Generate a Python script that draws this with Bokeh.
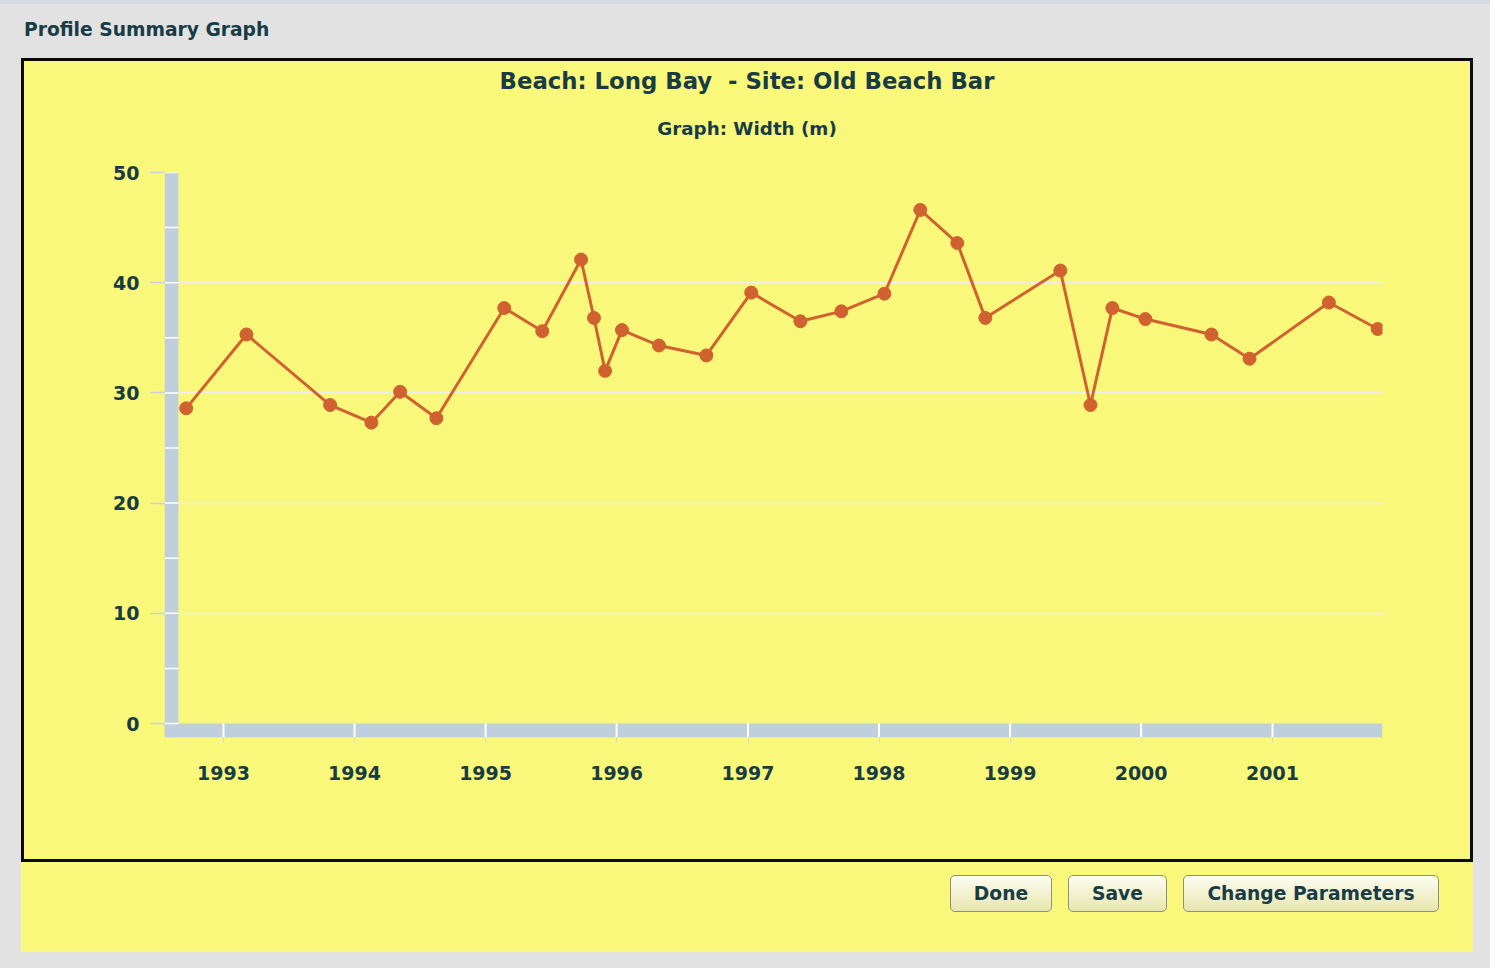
from datetime import datetime
from bokeh.plotting import figure
from bokeh.models import Div, FixedTicker, DatetimeTickFormatter, Range1d
from bokeh.layouts import column, row
from bokeh.embed import file_html
from bokeh.resources import INLINE

# ---------------- data ----------------
survey_dates = [
    "1992-09-19", "1993-03-06", "1993-10-25", "1994-02-17", "1994-05-08",
    "1994-08-17", "1995-02-22", "1995-06-08", "1995-09-24", "1995-10-30",
    "1995-11-30", "1996-01-16", "1996-04-28", "1996-09-07", "1997-01-10",
    "1997-05-27", "1997-09-18", "1998-01-16", "1998-04-26", "1998-08-07",
    "1998-10-24", "1999-05-21", "1999-08-13", "1999-10-13", "2000-01-13",
    "2000-07-15", "2000-10-29", "2001-06-07", "2001-10-21",
]
beach_width_m = [
    28.6, 35.3, 28.9, 27.3, 30.1,
    27.7, 37.7, 35.6, 42.1, 36.8,
    32.0, 35.7, 34.3, 33.4, 39.1,
    36.5, 37.4, 39.0, 46.6, 43.6,
    36.8, 41.1, 28.9, 37.7, 36.7,
    35.3, 33.1, 38.2, 35.8,
]
year_ticks = [1993, 1994, 1995, 1996, 1997, 1998, 1999, 2000, 2001]
y_ticks = [0, 10, 20, 30, 40, 50]
y_minor = [5, 15, 25, 35, 45]

window_title = "Profile Summary Graph"
chart_title = "Beach: Long Bay  - Site: Old Beach Bar"
chart_subtitle = "Graph: Width (m)"
button_labels = ["Done", "Save", "Change Parameters"]

# ---------------- style ----------------
YEL = "#f9f87b"
GRAY = "#e2e2e2"
BLACK = "#0a0a0a"
TXT = "#183c46"
BAR = "#bfcfdd"
LINE = "#d0622f"
FONT = "DejaVu Sans"

EPOCH = datetime(1970, 1, 1)


def to_ms(d):
    return (d - EPOCH).total_seconds() * 1000.0


x_vals = [datetime.strptime(s, "%Y-%m-%d") for s in survey_dates]
year_ms = [to_ms(datetime(y, 1, 1)) for y in year_ticks]

# layout geometry (pixels)
FRAME_W, FRAME_H = 1218, 565
PX_PER_YEAR = 131.125
YEAR = 365.25 * 86400 * 1000.0
x_start = year_ms[0] - 59 / PX_PER_YEAR * YEAR
x_end = x_start + FRAME_W / PX_PER_YEAR * YEAR
y_top = 50
y_bot = -14 * y_top / 551.0
bar_w = 14 / PX_PER_YEAR * YEAR

p = figure(
    width=1446, height=708, title=None,
    x_axis_type="datetime",
    x_range=Range1d(x_start, x_end), y_range=Range1d(y_bot, y_top),
    output_backend="svg", toolbar_location=None,
    min_border_left=140, min_border_right=88,
    min_border_top=21, min_border_bottom=122,
    background_fill_color=None, border_fill_color=YEL,
    outline_line_color=None,
)

# axes
p.xaxis.ticker = FixedTicker(ticks=year_ms)
p.xaxis.formatter = DatetimeTickFormatter(years="%Y", months="%Y", days="%Y")
p.yaxis.ticker = FixedTicker(ticks=y_ticks)
for ax in (p.xaxis, p.yaxis):
    ax.axis_line_color = None
    ax.minor_tick_line_color = None
    ax.major_tick_in = 0
    ax.major_label_text_font = FONT
    ax.major_label_text_font_style = "bold"
    ax.major_label_text_font_size = "19px"
    ax.major_label_text_color = TXT
p.xaxis.major_tick_out = 5
p.xaxis.major_tick_line_color = "#d2dae0"
p.xaxis.major_tick_line_width = 1
p.xaxis.major_label_standoff = 23
p.yaxis.major_tick_out = 14
p.yaxis.major_tick_line_color = "#c6d2de"
p.yaxis.major_tick_line_width = 1.5
p.yaxis.major_label_standoff = 11

p.xgrid.grid_line_color = None
p.ygrid.ticker = FixedTicker(ticks=y_ticks[1:])
p.ygrid.grid_line_color = "#eeeeee"
p.ygrid.grid_line_width = 1.5

# axis "walls"
p.quad(left=[x_start], right=[x_end], bottom=[y_bot], top=[0],
       fill_color=BAR, line_color=None)
p.quad(left=[x_start], right=[x_start + bar_w], bottom=[y_bot], top=[y_top],
       fill_color=BAR, line_color=None)
wall_y = sorted(y_ticks + y_minor)
p.segment(x0=[x_start] * len(wall_y), x1=[x_start + bar_w] * len(wall_y),
          y0=wall_y, y1=wall_y, line_color="white", line_width=1.5)
p.segment(x0=year_ms, x1=year_ms, y0=[y_bot] * len(year_ms), y1=[0] * len(year_ms),
          line_color="white", line_width=2)

# data
p.line(x_vals, beach_width_m, line_color=LINE, line_width=3)
p.scatter(x_vals, beach_width_m, size=13, fill_color=LINE, line_color=LINE)


def block(w, h, color):
    return Div(text="", width=w, height=h, margin=0,
               styles={"background-color": color})


TOTAL_W = 1490
BOTTOM_H = 106
header = Div(
    width=TOTAL_W, height=58, margin=0,
    styles={"background-color": GRAY, "overflow": "hidden"},
    text=(
        f'<div style="position:relative;width:{TOTAL_W}px;height:58px;">'
        f'<div style="position:absolute;left:0;top:0;width:{TOTAL_W}px;height:4px;'
        f'background:#d3dae1;"></div>'
        f'<div style="position:absolute;left:24px;top:20.5px;font-family:\'{FONT}\';'
        f'font-weight:bold;font-size:18.7px;line-height:1;color:{TXT};white-space:pre;">'
        f'{window_title}</div></div>'
    ),
)

title_div = Div(
    width=1446, height=90, margin=0,
    styles={"background-color": YEL, "overflow": "hidden"},
    text=(
        f'<div style="position:relative;width:1446px;height:90px;">'
        f'<div style="position:absolute;left:0;top:9px;width:1446px;text-align:center;'
        f'font-family:\'{FONT}\';font-weight:bold;font-size:22.8px;line-height:1;'
        f'color:{TXT};white-space:pre;">{chart_title}</div>'
        f'<div style="position:absolute;left:0;top:58.5px;width:1446px;text-align:center;'
        f'font-family:\'{FONT}\';font-weight:bold;font-size:18.3px;line-height:1;'
        f'color:{TXT};white-space:pre;">{chart_subtitle}</div>'
        f'</div>'
    ),
)

btn_geom = [(950, 102), (1068, 99), (1183, 256)]
btn_html = ""
for (left, w), lab in zip(btn_geom, button_labels):
    btn_html += (
        f'<div style="position:absolute;left:{left}px;top:13px;width:{w}px;height:37px;'
        f'box-sizing:border-box;border:1px solid #8e8e84;border-radius:5px;'
        f'background:linear-gradient(#fdfdf2,#e8e6ae);text-align:center;'
        f'line-height:35px;font-family:\'{FONT}\';font-weight:bold;font-size:18.7px;'
        f'color:{TXT};white-space:pre;">{lab}</div>'
    )

bottom = Div(
    width=TOTAL_W, height=BOTTOM_H, margin=0,
    styles={"background-color": GRAY, "overflow": "hidden"},
    text=(
        f'<div style="position:relative;width:{TOTAL_W}px;height:{BOTTOM_H}px;">'
        f'<div style="position:absolute;left:21px;top:0;width:1452px;height:90px;'
        f'background:{YEL};"></div>{btn_html}</div>'
    ),
)

inner = column(block(1446, 3, BLACK), title_div, p, block(1446, 3, BLACK),
               spacing=0, styles={"background-color": YEL})
right_gray = TOTAL_W - 21 - 3 - 1446 - 3
mid = row(block(21, 804, GRAY), block(3, 804, BLACK), inner,
          block(3, 804, BLACK), block(right_gray, 804, GRAY),
          spacing=0, styles={"background-color": GRAY})
page = column(header, mid, bottom, spacing=0, styles={"background-color": GRAY})

open("out.html", "w").write(file_html(page, INLINE))
